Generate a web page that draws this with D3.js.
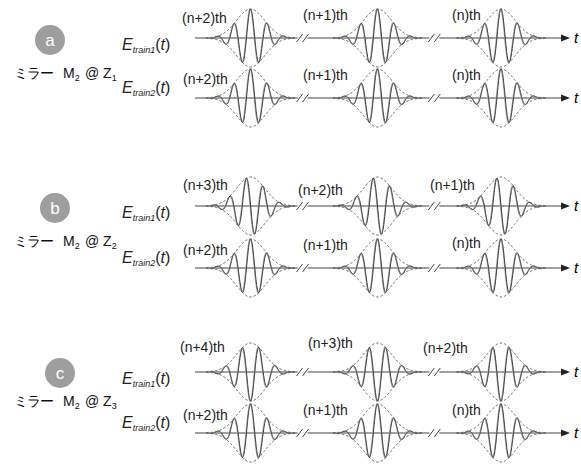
<!DOCTYPE html>
<html>
<head>
<meta charset="utf-8">
<script src="https://cdn.jsdelivr.net/npm/d3@7"></script>
<style>
  body { margin: 0; background: #fff; }
  text { font-family: "Liberation Sans", "Open Sans", sans-serif; }
</style>
</head>
<body>
<svg id="chart" width="581" height="464"></svg>
<script>
// pulse train sketch: three mirror positions, two trains each

// data
const panelNames = ['a', 'b', 'c'];
const mirrorZ = ['1', '2', '3'];
const pulseTimes = [15, 49.2, 82.5];     // pulse centres (arb. time units 0..100)
const breakTimes = [29, 64.5];           // where the time axis is broken
const train1Labels = [
  ['(n+2)th', '(n+1)th', '(n)th'],
  ['(n+3)th', '(n+2)th', '(n+1)th'],
  ['(n+4)th', '(n+3)th', '(n+2)th']
];
const train2Labels = [
  ['(n+2)th', '(n+1)th', '(n)th'],
  ['(n+2)th', '(n+1)th', '(n)th'],
  ['(n+2)th', '(n+1)th', '(n)th']
];
const train1Phase = [0, 0.5, 1];   // carrier phase, in units of pi
const train2Phase = [0, 0, 0];
const carrierPeriod = 4.5;
const envWidth = 3.8;

// layout
const rowY = [[38, 98], [206, 268], [372, 433]];
const labelX = [
  [[182, 303, 452], [183, 303, 452]],
  [[183, 298, 430], [183, 303, 452]],
  [[180, 308, 423], [183, 303, 452]]
];
const labelDy = [
  [[-15, -18, -18], [-14, -18, -18]],
  [[-16, -11, -16], [-13, -18, -20]],
  [[-20, -24, -19], [-13, -18, -18]]
];
const eLabelDy = [12, -5];
const circles = [[50, 40], [55, 208], [60, 373]];
const mirrorBase = [78, 246, 406];

const svg = d3.select('#chart');
const x = d3.scaleLinear().domain([0, 100]).range([195, 566]);

function drawRow(axisY, phase, labels, lx, ldy, trainNo) {
  const y = d3.scaleLinear().domain([-1, 1]).range([axisY + 29, axisY - 29]);
  const g = svg.append('g');

  // axis line
  g.append('line')
    .attr('x1', x(0)).attr('x2', x(100) - 4)
    .attr('y1', axisY).attr('y2', axisY)
    .attr('stroke', '#444').attr('stroke-width', 1.2);
  g.append('path')
    .attr('d', `M${x(100) + 4},${axisY} L${x(100) - 5},${axisY - 3.5} L${x(100) - 5},${axisY + 3.5} Z`)
    .attr('fill', '#222');
  g.append('text')
    .attr('x', x(100) + 8).attr('y', axisY + 5)
    .attr('font-family', 'Liberation Serif, serif')
    .attr('font-style', 'italic').attr('font-size', 15)
    .text('t');

  pulseTimes.forEach(function(c, i) {
    const envT = d3.range(c - 12, c + 12.01, 0.2);
    const env = t => Math.exp(-Math.pow(t - c, 2) / (2 * envWidth * envWidth));
    const carrier = (t, extra) => env(t) * Math.cos(2 * Math.PI * (t - c) / carrierPeriod + phase * Math.PI + extra);

    [1, -1].forEach(function(s) {
      g.append('path')
        .attr('d', d3.line().x(t => x(t)).y(t => y(s * env(t)))(envT))
        .attr('fill', 'none').attr('stroke', '#555')
        .attr('stroke-width', 0.9).attr('stroke-dasharray', '2.5,2');
    });

    const carT = d3.range(c - 11, c + 11.01, 0.05);
    g.append('path')
      .attr('d', d3.line().x(t => x(t)).y(t => y(carrier(t, 0.2)))(carT))
      .attr('fill', 'none').attr('stroke', '#a8a8a8').attr('stroke-width', 1.2);
    g.append('path')
      .attr('d', d3.line().x(t => x(t)).y(t => y(carrier(t, 0)))(carT))
      .attr('fill', 'none').attr('stroke', '#3a3a3a').attr('stroke-width', 1);

    g.append('text')
      .attr('x', lx[i]).attr('y', axisY + ldy[i])
      .attr('font-size', 14).attr('fill', '#222')
      .text(labels[i]);
  });

  // axis breaks
  breakTimes.forEach(function(b) {
    const bx = x(b);
    g.append('rect').attr('x', bx - 5).attr('y', axisY - 2).attr('width', 10).attr('height', 4).attr('fill', '#fff');
    [-3, 3].forEach(function(o) {
      g.append('line')
        .attr('x1', bx + o - 3).attr('y1', axisY + 4)
        .attr('x2', bx + o + 3).attr('y2', axisY - 4)
        .attr('stroke', '#444').attr('stroke-width', 1);
    });
  });

  // E_train label
  const et = g.append('text')
    .attr('x', 122).attr('y', axisY + eLabelDy[trainNo - 1])
    .attr('font-family', 'Liberation Serif, serif')
    .attr('font-size', 16).attr('fill', '#222');
  et.append('tspan').attr('font-style', 'italic').text('E');
  et.append('tspan').attr('font-style', 'italic').attr('font-size', 9).attr('dy', 3).text('train' + trainNo);
  et.append('tspan').attr('dy', -3).text('(');
  et.append('tspan').attr('font-style', 'italic').text('t');
  et.append('tspan').text(')');
}

panelNames.forEach(function(name, p) {
  drawRow(rowY[p][0], train1Phase[p], train1Labels[p], labelX[p][0], labelDy[p][0], 1);
  drawRow(rowY[p][1], train2Phase[p], train2Labels[p], labelX[p][1], labelDy[p][1], 2);

  svg.append('circle')
    .attr('cx', circles[p][0]).attr('cy', circles[p][1]).attr('r', 15)
    .attr('fill', '#9e9e9e');
  svg.append('text')
    .attr('x', circles[p][0]).attr('y', circles[p][1] + 6)
    .attr('text-anchor', 'middle').attr('font-size', 17).attr('fill', '#fff')
    .text(name);

  const m = svg.append('g').attr('fill', '#111');
  m.append('text').attr('x', 14).attr('y', mirrorBase[p])
    .attr('font-family', 'Noto Sans CJK JP, sans-serif').attr('font-size', 14)
    .attr('letter-spacing', -1)
    .text('ミラー');
  const mt = m.append('text').attr('x', 63).attr('y', mirrorBase[p]).attr('font-size', 14);
  mt.append('tspan').text('M');
  mt.append('tspan').attr('font-size', 9).attr('dy', 3).text('2');
  const zt = m.append('text').attr('x', 85).attr('y', mirrorBase[p]).attr('font-size', 14);
  zt.append('tspan').text('@ Z');
  zt.append('tspan').attr('font-size', 9).attr('dy', 3).text(mirrorZ[p]);
});
</script>
</body>
</html>
